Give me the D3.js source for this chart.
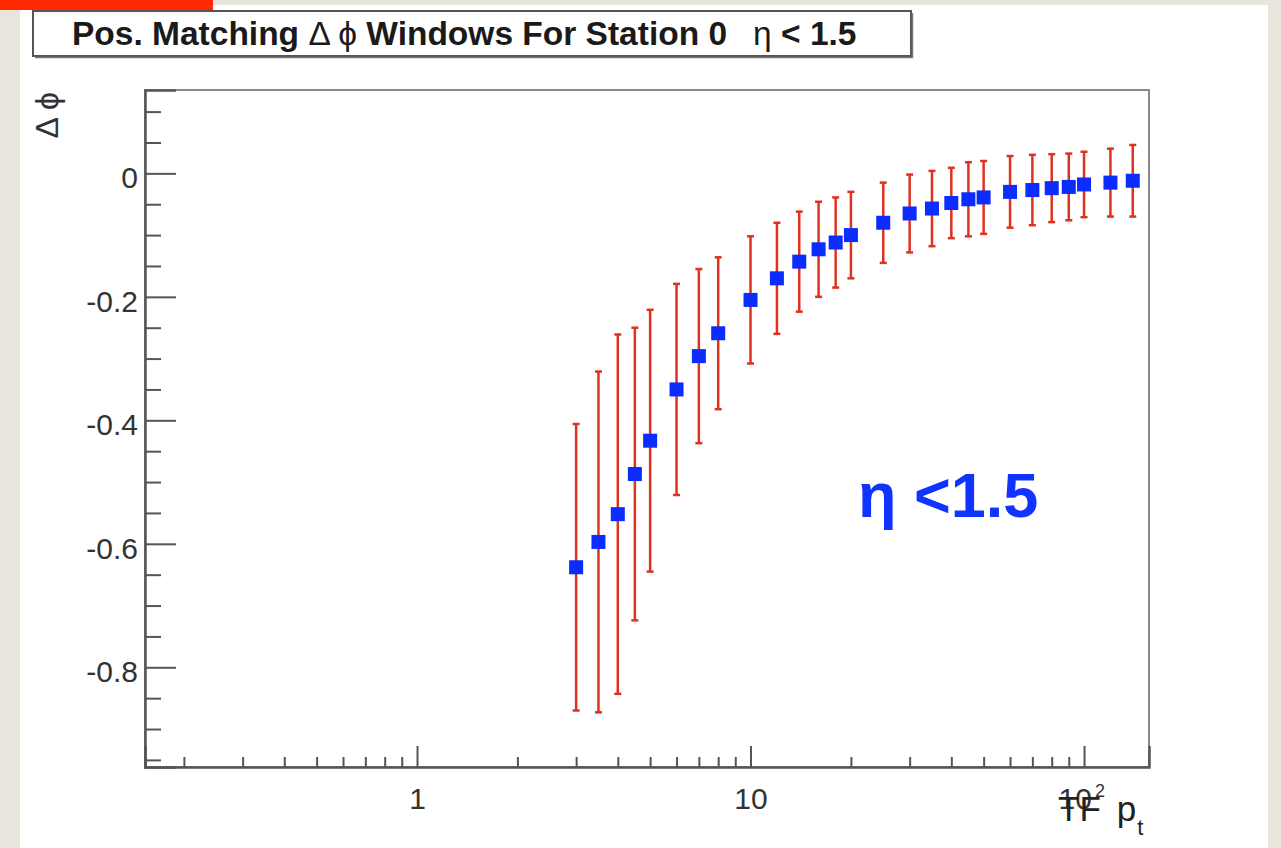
<!DOCTYPE html>
<html>
<head>
<meta charset="utf-8">
<script src="https://cdn.jsdelivr.net/npm/d3@7"></script>
<style>
  html, body { margin: 0; padding: 0; background: #e8e6dc; }
  svg { display: block; }
  text { font-family: "Liberation Sans", Arial, sans-serif; }
</style>
</head>
<body>
<svg id="chart"></svg>
<script>
// data: pt bins, mean delta phi, and the window half width
const ptBins   = [3, 3.5, 4, 4.5, 5, 6, 7, 8, 10, 12, 14, 16, 18, 20, 25, 30, 35, 40, 45, 50, 60, 70, 80, 90, 100, 120, 140];
const dphiMean = [-0.638, -0.597, -0.552, -0.487, -0.433, -0.350, -0.296, -0.259, -0.205, -0.170, -0.143, -0.123, -0.112, -0.100,
                  -0.080, -0.065, -0.057, -0.048, -0.042, -0.039, -0.030, -0.027, -0.024, -0.022, -0.018, -0.015, -0.012];
const dphiErr  = [0.232, 0.276, 0.291, 0.237, 0.212, 0.171, 0.141, 0.123, 0.103, 0.090, 0.081, 0.077, 0.073, 0.070,
                  0.065, 0.063, 0.061, 0.057, 0.060, 0.059, 0.058, 0.057, 0.055, 0.054, 0.053, 0.055, 0.058];

const yMajorTicks = [0, -0.2, -0.4, -0.6, -0.8];
const yTickLabels = ["0", "-0.2", "-0.4", "-0.6", "-0.8"];
const xMajorTicks = [1, 10, 100];
const xTickLabels = ["1", "10", "10"];   // last one gets a superscript 2

const W = 1281, H = 848;
const frame = { left: 145, right: 1149, top: 90, bottom: 767 };

const svg = d3.select('#chart').attr('width', W).attr('height', H);

// page: beige slide, white sheet, red corner strip
svg.append('rect').attr('width', W).attr('height', H).attr('fill', '#e8e6dc');
svg.append('rect').attr('x', 20).attr('y', 5).attr('width', 1248).attr('height', H - 5).attr('fill', '#ffffff');
svg.append('rect').attr('x', 0).attr('y', 0).attr('width', 213).attr('height', 10).attr('fill', '#ff2a00');

// scales
const x = d3.scaleLog().domain([0.1529, 156.6]).range([frame.left, frame.right]);
const y = d3.scaleLinear().domain([-0.9615, 0.135]).range([frame.bottom, frame.top]);

// title box
svg.append('rect').attr('x', 33).attr('y', 11).attr('width', 878).attr('height', 45)
  .attr('fill', '#fff').attr('stroke', '#555').attr('stroke-width', 2);
svg.append('path').attr('d', 'M35,57.5H912.5V13').attr('fill', 'none').attr('stroke', '#777').attr('stroke-width', 1.5);

const title = svg.append('text').attr('x', 72).attr('y', 45)
  .attr('font-size', 33.5).attr('fill', '#1a1a1a');
title.append('tspan').attr('font-weight', 'bold').text('Pos. Matching ');
title.append('tspan').text('\u0394 \u03d5');
title.append('tspan').attr('font-weight', 'bold').text(' Windows For Station 0');
title.append('tspan').attr('dx', 26).text('\u03b7');
title.append('tspan').attr('font-weight', 'bold').text(' < 1.5');

// frame
svg.append('rect')
  .attr('x', frame.left).attr('y', frame.top)
  .attr('width', frame.right - frame.left).attr('height', frame.bottom - frame.top)
  .attr('fill', 'none').attr('stroke', '#8a8a8a').attr('stroke-width', 2);

// y axis: minor ticks then majors with labels
const yMinor = d3.range(-0.95, 0.101, 0.05).filter(v => !yMajorTicks.some(m => Math.abs(m - v) < 1e-6));
svg.append('g').attr('transform', `translate(${frame.left},0)`)
  .call(d3.axisLeft(y).tickValues(yMinor).tickSize(-16).tickFormat(''))
  .call(g => g.select('.domain').remove())
  .selectAll('line').attr('stroke', '#555').attr('stroke-width', 2);

const yAxis = svg.append('g').attr('transform', `translate(${frame.left},0)`)
  .call(d3.axisLeft(y).tickValues(yMajorTicks).tickSize(-31).tickPadding(7)
    .tickFormat((d, i) => yTickLabels[i]));
yAxis.select('.domain').attr('stroke', '#555').attr('stroke-width', 2.5);
yAxis.selectAll('line').attr('stroke', '#555').attr('stroke-width', 2);
yAxis.selectAll('text').attr('font-size', 30).attr('fill', '#333').attr('dy', '0.48em')
  .attr('font-family', '"Liberation Sans", Arial, sans-serif');

// x axis
const xMinor = [];
[0.1, 1, 10, 100].forEach(dec => d3.range(2, 10).forEach(k => {
  const v = dec * k;
  if (v > x.domain()[0] && v < x.domain()[1]) xMinor.push(v);
}));
svg.append('g').attr('transform', `translate(0,${frame.bottom})`)
  .call(d3.axisBottom(x).tickValues(xMinor).tickSize(-10).tickFormat(''))
  .call(g => g.select('.domain').remove())
  .selectAll('line').attr('stroke', '#555').attr('stroke-width', 2);

const xAxis = svg.append('g').attr('transform', `translate(0,${frame.bottom})`)
  .call(d3.axisBottom(x).tickValues(xMajorTicks).tickSize(-21).tickPadding(21)
    .tickFormat((d, i) => xTickLabels[i]));
xAxis.select('.domain').attr('stroke', '#555').attr('stroke-width', 2.5);
xAxis.selectAll('line').attr('stroke', '#555').attr('stroke-width', 2);
xAxis.selectAll('text').attr('font-size', 30).attr('fill', '#333')
  .attr('font-family', '"Liberation Sans", Arial, sans-serif');
xAxis.selectAll('.tick').filter(d => d === 100).select('text')
  .attr('text-anchor', 'start').attr('dx', -26)
  .append('tspan').attr('font-size', 18).attr('dy', -12).attr('dx', 3).text('2');

// axis titles
svg.append('text')
  .attr('transform', 'translate(58,92) rotate(-90)')
  .attr('text-anchor', 'end').attr('font-size', 32).attr('fill', '#333')
  .text('\u0394 \u03d5');

// ROOT puts the x title right on top of the last tick label, as in the original
const xTitle = svg.append('text').attr('x', 1058).attr('y', 821)
  .attr('font-size', 35).attr('fill', '#222');
xTitle.append('tspan').text('TF');
xTitle.append('tspan').attr('dx', 16).text('p');
xTitle.append('tspan').attr('font-size', 22).attr('dy', 14).attr('dx', 1).text('t');

// error bars
const eb = svg.append('g').attr('stroke', '#e0311f').attr('stroke-width', 2.5);
ptBins.forEach((pt, i) => {
  const cx = x(pt), y0 = y(dphiMean[i] - dphiErr[i]), y1 = y(dphiMean[i] + dphiErr[i]);
  eb.append('line').attr('x1', cx).attr('x2', cx).attr('y1', y0).attr('y2', y1);
  eb.append('line').attr('x1', cx - 3.5).attr('x2', cx + 3.5).attr('y1', y0).attr('y2', y0);
  eb.append('line').attr('x1', cx - 3.5).attr('x2', cx + 3.5).attr('y1', y1).attr('y2', y1);
});

// markers
const ms = 14;
svg.append('g').selectAll('rect')
  .data(ptBins.map((pt, i) => ({ pt, v: dphiMean[i] })))
  .enter().append('rect')
  .attr('x', d => x(d.pt) - ms / 2).attr('y', d => y(d.v) - ms / 2)
  .attr('width', ms).attr('height', ms)
  .attr('fill', '#0b2cff');

// annotation
svg.append('text').attr('x', 858).attr('y', 517)
  .attr('font-size', 63).attr('font-weight', 'bold').attr('fill', '#1133ff')
  .text('\u03b7 <1.5');
</script>
</body>
</html>
